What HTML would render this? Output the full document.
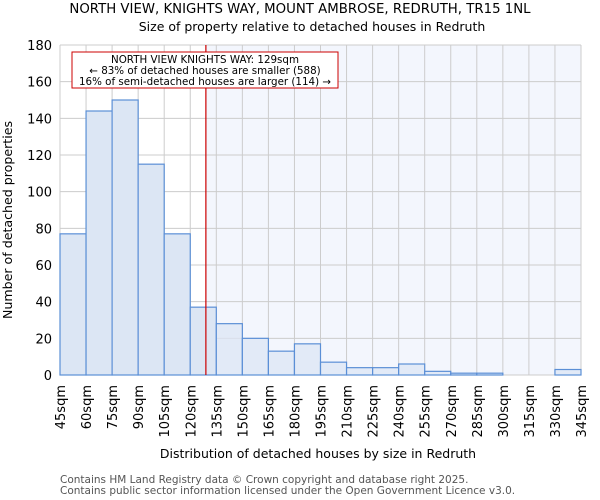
<!DOCTYPE html>
<html><head><meta charset="utf-8"><style>
body{margin:0;background:#fff}
svg{display:block;font-family:"DejaVu Sans","Liberation Sans",sans-serif}
</style></head><body>
<svg id="chart" width="600" height="500">
<text x="300" y="13" text-anchor="middle" font-size="13.3">NORTH VIEW, KNIGHTS WAY, MOUNT AMBROSE, REDRUTH, TR15 1NL</text>
<text x="312" y="31" text-anchor="middle" font-size="12.5">Size of property relative to detached houses in Redruth</text>
<g id="plot"></g>
<text x="12" y="220" transform="rotate(-90 12 220)" text-anchor="middle" font-size="12.6">Number of detached properties</text>
<text x="318" y="458" text-anchor="middle" font-size="12.5">Distribution of detached houses by size in Redruth</text>
<text x="60" y="483" font-size="10.5" fill="#555">Contains HM Land Registry data © Crown copyright and database right 2025.</text>
<text x="60" y="494" font-size="10.5" fill="#555">Contains public sector information licensed under the Open Government Licence v3.0.</text>
</svg>
<script>
const binStarts=[45,60,75,90,105,120,135,150,165,180,195,210,225,240,255,270,285,300,315,330];
const counts=[77,144,150,115,77,37,28,20,13,17,7,4,4,6,2,1,1,0,0,3];
const yTicks=[0,20,40,60,80,100,120,140,160,180];
const xTicks=[45,60,75,90,105,120,135,150,165,180,195,210,225,240,255,270,285,300,315,330,345];
const markerValue=129;
const NS="http://www.w3.org/2000/svg";
const L=60,R=581,T=45,B=375,xMin=45,xMax=345,yMax=180;
const xs=v=>L+(v-xMin)/(xMax-xMin)*(R-L);
const ys=v=>B-v/yMax*(B-T);
const g=document.getElementById('plot');
function mk(tag,attrs){const e=document.createElementNS(NS,tag);for(const k in attrs)e.setAttribute(k,attrs[k]);g.appendChild(e);return e;}
let e=mk('rect',{x:xs(markerValue),y:T,width:R-xs(markerValue),height:B-T,fill:'#f3f6fd'});


yTicks.forEach(t=>{const l=mk('line',{x1:L,x2:R,y1:ys(t),y2:ys(t),stroke:'#cccccc','stroke-width':1});


const tx=mk('text',{x:L-8,y:ys(t)+5,'text-anchor':'end','font-size':'13'});tx.textContent=t;

});
xTicks.forEach(t=>{const l=mk('line',{x1:xs(t),x2:xs(t),y1:T,y2:B,stroke:'#cccccc','stroke-width':1});


const x=xs(t)+5,y=B+10;const tx=mk('text',{x:x,y:y,transform:`rotate(-90 ${x} ${y})`,'text-anchor':'end','font-size':'13'});tx.textContent=t+'sqm';

});
binStarts.forEach((s,i)=>{if(counts[i]<=0)return;const x0=xs(s),x1=xs(s+15);
const r=mk('rect',{x:x0,y:ys(counts[i]),width:x1-x0,height:B-ys(counts[i]),fill:'#dce6f4','fill-opacity':s>=markerValue?0.75:1,stroke:'#5b8fd6','stroke-width':1.2});

});
e=mk('line',{x1:xs(markerValue),x2:xs(markerValue),y1:T,y2:B,stroke:'#cc0000','stroke-width':1.2});


e=mk('rect',{x:72,y:52,width:266,height:36,fill:'#fff',stroke:'#cc0000','stroke-width':1});


['NORTH VIEW KNIGHTS WAY: 129sqm','← 83% of detached houses are smaller (588)','16% of semi-detached houses are larger (114) →'].forEach((s,i)=>{const t=mk('text',{x:205,y:63+i*11,'text-anchor':'middle','font-size':'10.3'});t.textContent=s;

});
</script>
</body></html>
